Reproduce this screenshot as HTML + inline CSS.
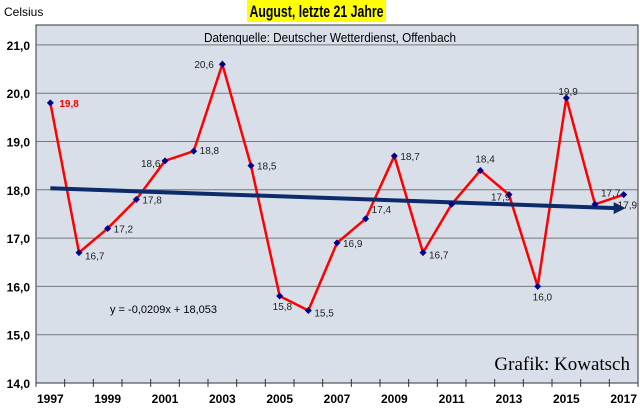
<!DOCTYPE html>
<html><head><meta charset="utf-8"><style>
body{margin:0;background:#fff;font-family:"Liberation Sans",sans-serif;}
svg text{font-family:"Liberation Sans",sans-serif;}
</style></head><body>
<svg width="640" height="413">
<rect x="247" y="0" width="139" height="22" fill="#ffff00"/>
<text x="316.5" y="17" text-anchor="middle" font-size="16.5" font-weight="bold" textLength="134" lengthAdjust="spacingAndGlyphs">August, letzte 21 Jahre</text>
<text x="4" y="16" font-size="12">Celsius</text>
<rect x="36" y="25" width="602" height="358" fill="#d9dfe9" stroke="#333" stroke-width="1"/>
<text x="330" y="42" text-anchor="middle" font-size="13" textLength="252" lengthAdjust="spacingAndGlyphs">Datenquelle: Deutscher Wetterdienst, Offenbach</text>
<text x="630" y="370" text-anchor="end" font-size="19" style="font-family:'Liberation Serif',serif">Grafik: Kowatsch</text>
<text x="110" y="313" font-size="11">y = -0,0209x + 18,053</text>
<g id="grid"></g><g id="marks"></g>
</svg>
<script>
const years=[1997,1998,1999,2000,2001,2002,2003,2004,2005,2006,2007,2008,2009,2010,2011,2012,2013,2014,2015,2016,2017];
const temps=[19.8,16.7,17.2,17.8,18.6,18.8,20.6,18.5,15.8,15.5,16.9,17.4,18.7,16.7,17.7,18.4,17.9,16.0,19.9,17.7,17.9];
const yTicks=[14,15,16,17,18,19,20,21];
const trendSlope=-0.0209, trendIntercept=18.053;
const NS="http://www.w3.org/2000/svg";
const L=36,R=638,Y0=383,PU=48.3;
const bw=(R-L)/years.length;
const X=i=>L+bw*(i+0.5);
const Y=v=>Y0-(v-14)*PU;
const g=document.getElementById('grid'),m=document.getElementById('marks');
function el(t,a,p){const e=document.createElementNS(NS,t);for(const k in a)e.setAttribute(k,a[k]);p.appendChild(e);return e;}
yTicks.forEach(v=>{
 if(v>14){const ln=el('line',{x1:L,x2:R,y1:Y(v),y2:Y(v),stroke:'#777','stroke-width':1},g);
 
 }
 const t=el('text',{x:30,y:Y(v)+5,'text-anchor':'end','font-size':12,'font-weight':'bold'},g);
 t.textContent=v.toFixed(1).replace('.',',');
 
 
});
for(let i=0;i<=years.length;i++){
 const tk=el('line',{x1:L+bw*i,x2:L+bw*i,y1:Y0-4,y2:Y0+4,stroke:'#333'},g);
 
 
}
years.forEach((yr,i)=>{if(i%2==0){
 const t=el('text',{x:X(i),y:403,'text-anchor':'middle','font-size':12,'font-weight':'bold'},g);
 t.textContent=yr;
 
 }});
const ln=el('polyline',{points:temps.map((v,i)=>X(i)+','+Y(v)).join(' '),fill:'none',stroke:'#ff0000','stroke-width':2.5},m);


const n=years.length;
const tx1=X(0),ty1=Y(trendIntercept+trendSlope*1),tx2=X(n-1)-8,ty2=Y(trendIntercept+trendSlope*(n-0.3));
const tr=el('line',{x1:tx1,y1:ty1,x2:tx2,y2:ty2,stroke:'#0d2b6b','stroke-width':4},m);


const ah=el('polygon',{points:`${tx2+10},${ty2} ${tx2-2},${ty2-6} ${tx2-2},${ty2+6}`,fill:'#0d2b6b'},m);


const offs={0:[9,4],1:[6,7],2:[6,4],3:[6,4],4:[-24,6],5:[6,3],6:[-28,4],7:[6,4],8:[-7,14],9:[6,6],10:[6,4],11:[6,-6],12:[6,4],13:[6,6],15:[-5,-8],16:[-18,6],17:[-5,14],18:[-8,-3],19:[6,-8],20:[-6,14]};
temps.forEach((v,i)=>{
 const p=el('path',{d:`M${X(i)},${Y(v)-3.5}L${X(i)+3.5},${Y(v)}L${X(i)},${Y(v)+3.5}L${X(i)-3.5},${Y(v)}Z`,fill:'#00008b'},m);
 
 
 if(offs[i]){const o=offs[i];
 const t=el('text',{x:X(i)+o[0],y:Y(v)+o[1],'font-size':10,fill:i==0?'#ff0000':'#222','font-weight':i==0?'bold':'normal'},m);
 t.textContent=v.toFixed(1).replace('.',',');
 
 }
});
</script>
</body></html>
